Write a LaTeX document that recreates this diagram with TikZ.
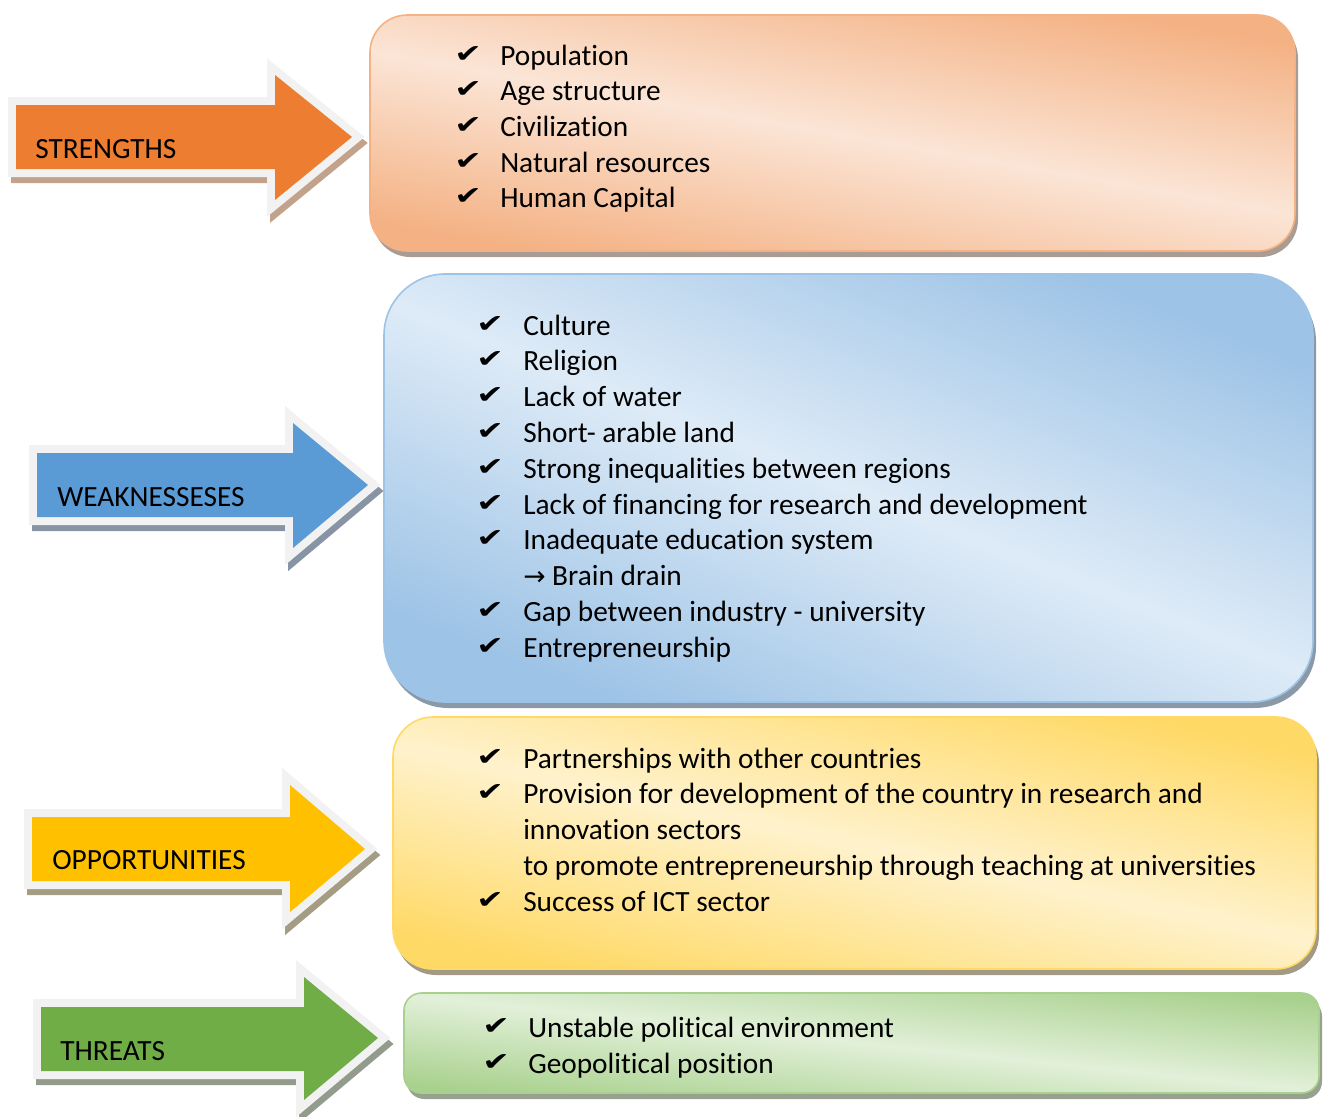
\documentclass[tikz,border=0pt]{standalone}
\usepackage{fontspec}
\setmainfont{Carlito}[Ligatures=NoCommon]
\newfontfamily\symfont{DejaVu Sans}
\usepackage{xcolor}

% arrow and box colours
\definecolor{rimgray}{HTML}{F2F2F2}
\definecolor{strorange}{HTML}{ED7D31}
\definecolor{strdark}{HTML}{F4B183}
\definecolor{strlight}{HTML}{FBE5D6}
\definecolor{strshadow}{HTML}{C2A28A}
\definecolor{strboxshadow}{HTML}{A89C94}
\definecolor{weakblue}{HTML}{5B9BD5}
\definecolor{weakdark}{HTML}{9DC3E6}
\definecolor{weaklight}{HTML}{DEEBF7}
\definecolor{weakshadow}{HTML}{8794A4}
\definecolor{weakboxshadow}{HTML}{8A98A8}
\definecolor{oppyellow}{HTML}{FFC000}
\definecolor{oppdark}{HTML}{FFD966}
\definecolor{opplight}{HTML}{FFF2CC}
\definecolor{oppshadow}{HTML}{A49D84}
\definecolor{oppboxshadow}{HTML}{A29A84}
\definecolor{thrgreen}{HTML}{70AD47}
\definecolor{thrdark}{HTML}{A9D18E}
\definecolor{thrlight}{HTML}{E2F0D9}
\definecolor{thrshadow}{HTML}{939C8C}
\definecolor{thrboxshadow}{HTML}{98A090}

\tikzset{
  swotarrow/.style 2 args={fill=#1, line join=miter,
    preaction={draw=#2, fill=#2, line width=12pt, line join=miter, transform canvas={shift={(3,6)}}},
    preaction={draw=rimgray, line width=12pt, line join=miter}},
  swotbox/.style n args={3}{draw=#2, line width=1.2pt, top color=#2, bottom color=#2, middle color=#1,
    preaction={fill=#3, transform canvas={shift={(3,6)}}}},
  arrowlabel/.style={anchor=base west, inner sep=0pt, font=\fontsize{22}{26}\selectfont},
  item/.style={anchor=base west, inner sep=0pt, font=\fontsize{22}{26}\selectfont},
  tick/.style={anchor=base west, inner sep=0pt, font=\symfont\fontsize{19}{21}\selectfont}
}

\begin{document}
\begin{tikzpicture}[x=0.75pt,y=-0.75pt]
    \useasboundingbox (0,0) rectangle (1325,1117);

    % Arrows
    \path[swotarrow={strorange}{strshadow}] (16,105) -- (275,105) -- (275,75) -- (352,137) -- (275,200) -- (275,169) -- (16,169) -- cycle;
    \path[swotarrow={weakblue}{weakshadow}] (37,453) -- (293,453) -- (293,423) -- (368,485) -- (293,548) -- (293,517) -- (37,517) -- cycle;
    \path[swotarrow={oppyellow}{oppshadow}] (32,817) -- (290,817) -- (290,785) -- (365,849) -- (290,912) -- (290,881) -- (32,881) -- cycle;
    \path[swotarrow={thrgreen}{thrshadow}] (41,1007) -- (304,1007) -- (304,977) -- (378,1038) -- (304,1100) -- (304,1071) -- (41,1071) -- cycle;

    % Arrow labels
    \node[arrowlabel] (strengths) at (35,158) {STRENGTHS};
    \node[arrowlabel] (weaknesses) at (57,506) {WEAKNESSESES};
    \node[arrowlabel] (opportunities) at (52,869) {OPPORTUNITIES};
    \node[arrowlabel] (threats) at (60,1060) {THREATS};

    % Boxes
    \path[swotbox={strlight}{strdark}{strboxshadow}, shading angle=-10, rounded corners=28pt] (370,15) rectangle (1295,251);
    \path[swotbox={weaklight}{weakdark}{weakboxshadow}, shading angle=-22, rounded corners=46pt] (384,274) rectangle (1313,702);
    \path[swotbox={opplight}{oppdark}{oppboxshadow}, shading angle=-12, rounded corners=30pt] (393,717) rectangle (1316,969);
    \path[swotbox={thrlight}{thrdark}{thrboxshadow}, shading angle=-6, rounded corners=13pt] (404,993) rectangle (1319,1093);

    % Strengths list
    \node[tick] (ts1) at (454,62) {\scalebox{1.3}[1]{✔}};
    \node[tick] (ts2) at (454,97.7) {\scalebox{1.3}[1]{✔}};
    \node[tick] (ts3) at (454,133.4) {\scalebox{1.3}[1]{✔}};
    \node[tick] (ts4) at (454,169.1) {\scalebox{1.3}[1]{✔}};
    \node[tick] (ts5) at (454,204.8) {\scalebox{1.3}[1]{✔}};
    \node[item] (s1) at (500,65) {Population};
    \node[item] (s2) at (500,100.7) {Age structure};
    \node[item] (s3) at (500,136.4) {Civilization};
    \node[item] (s4) at (500,172.1) {Natural resources};
    \node[item] (s5) at (500,207.8) {Human Capital};

    % Weaknesses list
    \node[tick] (tw1) at (476,332) {\scalebox{1.3}[1]{✔}};
    \node[tick] (tw2) at (476,367.8) {\scalebox{1.3}[1]{✔}};
    \node[tick] (tw3) at (476,403.6) {\scalebox{1.3}[1]{✔}};
    \node[tick] (tw4) at (476,439.4) {\scalebox{1.3}[1]{✔}};
    \node[tick] (tw5) at (476,475.2) {\scalebox{1.3}[1]{✔}};
    \node[tick] (tw6) at (476,511) {\scalebox{1.3}[1]{✔}};
    \node[tick] (tw7) at (476,546.8) {\scalebox{1.3}[1]{✔}};
    \node[tick] (tw9) at (476,618.4) {\scalebox{1.3}[1]{✔}};
    \node[tick] (tw10) at (476,654.2) {\scalebox{1.3}[1]{✔}};
    \node[item] (w1) at (523,335) {Culture};
    \node[item] (w2) at (523,370.8) {Religion};
    \node[item] (w3) at (523,406.6) {Lack of water};
    \node[item] (w4) at (523,442.4) {Short- arable land};
    \node[item] (w5) at (523,478.2) {Strong inequalities between regions};
    \node[item] (w6) at (523,514) {Lack of financing for research and development};
    \node[item] (w7) at (523,549.8) {Inadequate education system};
    \node[item] (w8) at (523,585.6) {{\symfont\fontsize{20}{22}\selectfont →} Brain drain};
    \node[item] (w9) at (523,621.4) {Gap between industry - university};
    \node[item] (w10) at (523,657.2) {Entrepreneurship};

    % Opportunities list
    \node[tick] (to1) at (476,765) {\scalebox{1.3}[1]{✔}};
    \node[tick] (to2) at (476,800.75) {\scalebox{1.3}[1]{✔}};
    \node[tick] (to5) at (476,908) {\scalebox{1.3}[1]{✔}};
    \node[item] (o1) at (523,768) {Partnerships with other countries};
    \node[item] (o2) at (523,803.75) {Provision for development of the country in research and};
    \node[item] (o3) at (523,839.5) {innovation sectors};
    \node[item] (o4) at (523,875.25) {to promote entrepreneurship through teaching at universities};
    \node[item] (o5) at (523,911) {Success of ICT sector};

    % Threats list
    \node[tick] (tt1) at (482,1034) {\scalebox{1.3}[1]{✔}};
    \node[tick] (tt2) at (482,1070) {\scalebox{1.3}[1]{✔}};
    \node[item] (t1) at (528,1037) {Unstable political environment};
    \node[item] (t2) at (528,1073) {Geopolitical position};
\end{tikzpicture}
\end{document}
